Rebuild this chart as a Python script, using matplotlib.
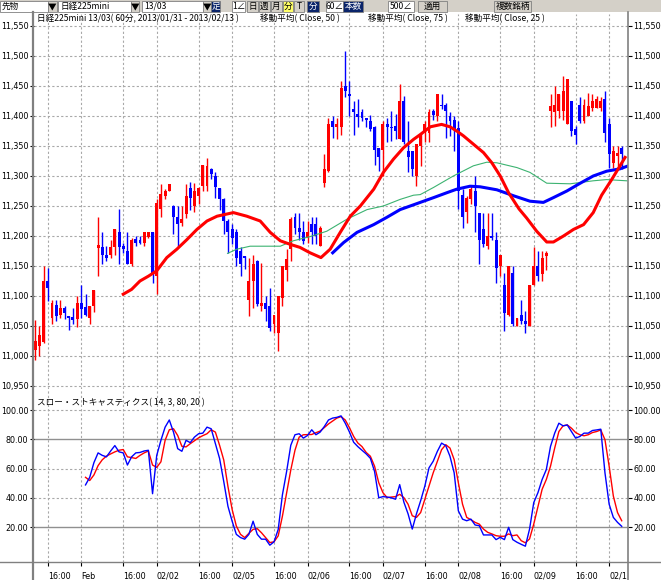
import matplotlib
matplotlib.use("Agg")
import matplotlib.pyplot as plt
from matplotlib.lines import Line2D
from matplotlib.patches import Rectangle

plt.rcParams['font.family'] = ['Noto Sans CJK JP', 'DejaVu Sans']

# hourly bars, index 0..140 (Nikkei225 mini 13/03, 60 min)
opens = [11010, 11017, 11024, 11125, 11064, 11085, 11069, 11080, 11067, 11065,
         11061, 11089, 11082, 11064, 11083, 11180, 11181, 11169, 11169, 11181,
         11206, 11184, 11175, 11153, 11195, 11194, 11189, 11198, 11206, 11133,
         11245, 11267, 11275, 11250, 11231, 11222, 11237, 11280, 11250, 11266,
         11283, 11283, 11311, 11300, 11280, 11262, 11225, 11211, 11206, 11175,
         11166, 11094, 11125, 11158, 11083, 11089, 11083, 11053, 11039, 11097,
         11144, 11178, 11231, 11214, 11206, 11197, 11220, 11220, 11183, 11289,
         11308, 11392, 11381, 11381, 11450, 11436, 11411, 11403, 11406, 11397,
         11392, 11381, 11347, 11344, 11386, 11382, 11383, 11361, 11425, 11342,
         11342, 11300, 11350, 11375, 11372, 11408, 11400, 11419, 11419, 11400,
         11394, 11380, 11269, 11240, 11261, 11275, 11239, 11211, 11183, 11200,
         11194, 11150, 11119, 11068, 11139, 11050, 11069, 11058, 11050, 11119,
         11150, 11136, 11167, 11408, 11406, 11408, 11408, 11386, 11425, 11378,
         11419, 11392, 11400, 11414, 11414, 11414, 11428, 11386, 11322, 11333,
         11347]
highs = [11060, 11050, 11150, 11146, 11094, 11094, 11094, 11084, 11067, 11080,
         11100, 11119, 11104, 11084, 11110, 11231, 11206, 11184, 11194, 11211,
         11245, 11189, 11206, 11197, 11200, 11200, 11206, 11206, 11206, 11262,
         11286, 11278, 11286, 11252, 11250, 11250, 11286, 11290, 11289, 11281,
         11319, 11330, 11314, 11306, 11280, 11264, 11228, 11220, 11211, 11181,
         11167, 11164, 11169, 11160, 11155, 11100, 11114, 11069, 11100, 11150,
         11178, 11231, 11239, 11239, 11225, 11225, 11231, 11231, 11217, 11336,
         11397, 11400, 11397, 11458, 11508, 11458, 11425, 11428, 11411, 11397,
         11401, 11383, 11347, 11392, 11397, 11408, 11403, 11453, 11433, 11392,
         11342, 11353, 11372, 11392, 11411, 11411, 11436, 11436, 11422, 11406,
         11400, 11392, 11278, 11267, 11283, 11300, 11239, 11239, 11239, 11239,
         11206, 11169, 11139, 11150, 11150, 11064, 11094, 11075, 11119, 11181,
         11175, 11175, 11175, 11436, 11450, 11436, 11467, 11461, 11425, 11383,
         11431, 11428, 11439, 11436, 11433, 11431, 11442, 11397, 11350, 11350,
         11350]
lows = [10993, 11000, 11022, 11092, 11053, 11058, 11064, 11061, 11043, 11054,
        11049, 11064, 11067, 11053, 11073, 11133, 11153, 11158, 11164, 11169,
        11153, 11172, 11153, 11150, 11183, 11186, 11183, 11197, 11122, 11103,
        11232, 11261, 11275, 11203, 11183, 11217, 11230, 11244, 11240, 11253,
        11275, 11275, 11295, 11264, 11244, 11203, 11172, 11186, 11150, 11133,
        11145, 11067, 11080, 11083, 11075, 11058, 11042, 11039, 11008, 11083,
        11125, 11158, 11203, 11194, 11186, 11189, 11186, 11186, 11183, 11281,
        11306, 11364, 11361, 11369, 11431, 11400, 11369, 11381, 11392, 11381,
        11375, 11319, 11308, 11300, 11356, 11358, 11361, 11361, 11353, 11306,
        11300, 11283, 11317, 11356, 11356, 11394, 11392, 11411, 11364, 11367,
        11342, 11245, 11214, 11222, 11253, 11206, 11153, 11181, 11178, 11194,
        11122, 11133, 11042, 11067, 11050, 11050, 11053, 11039, 11050, 11119,
        11125, 11125, 11144, 11381, 11383, 11397, 11394, 11386, 11367, 11353,
        11389, 11389, 11400, 11408, 11414, 11408, 11356, 11314, 11314, 11317,
        11311]
closes = [11025, 11035, 11125, 11114, 11089, 11066, 11080, 11072, 11064, 11060,
          11089, 11078, 11069, 11084, 11110, 11185, 11169, 11164, 11181, 11211,
          11181, 11179, 11154, 11194, 11189, 11188, 11206, 11206, 11139, 11255,
          11270, 11275, 11286, 11231, 11220, 11228, 11266, 11264, 11275, 11280,
          11319, 11317, 11303, 11281, 11261, 11225, 11206, 11197, 11164, 11153,
          11164, 11125, 11153, 11086, 11089, 11078, 11047, 11069, 11100, 11150,
          11161, 11228, 11214, 11206, 11192, 11206, 11206, 11200, 11214, 11311,
          11386, 11381, 11386, 11447, 11442, 11434, 11406, 11399, 11396, 11394,
          11378, 11344, 11331, 11386, 11381, 11380, 11375, 11425, 11356, 11331,
          11311, 11353, 11367, 11386, 11406, 11401, 11436, 11417, 11408, 11392,
          11378, 11275, 11231, 11264, 11278, 11250, 11194, 11186, 11200, 11196,
          11147, 11169, 11072, 11150, 11053, 11064, 11058, 11053, 11119, 11150,
          11133, 11164, 11172, 11417, 11419, 11436, 11442, 11461, 11375, 11369,
          11392, 11419, 11417, 11425, 11428, 11425, 11372, 11336, 11342, 11339,
          11336]

# moving averages (bar index, price)
ma25_x = [21, 23, 25, 27, 29, 31.4, 33.8, 36.2, 38.6, 41, 43.4, 47.3, 50.5, 53.7,
          56.1, 58.5, 60.9, 63.2, 65.6, 68.2, 70.4, 72.8, 75.2, 77.6, 80.8, 83.1,
          85.5, 87.9, 90.3, 91.9, 94.3, 97, 99, 100.6, 102.2, 104.6, 107, 109, 111,
          113, 115.5, 117.3, 119.7, 122.1, 123.7, 126.1, 128.5, 130.9, 133.2, 135.2,
          137.6, 139.6, 140.8]
ma25_y = [11103, 11111, 11125, 11133, 11142, 11164, 11178, 11194, 11211, 11225,
          11233, 11239, 11233, 11225, 11206, 11192, 11186, 11181, 11172, 11164,
          11178, 11206, 11233, 11250, 11278, 11306, 11328, 11347, 11361, 11369,
          11382, 11386, 11382, 11375, 11367, 11353, 11339, 11322, 11300, 11272,
          11245, 11230, 11208, 11190, 11190, 11200, 11211, 11219, 11239, 11268,
          11294, 11317, 11331]
ma50_x = [45.9, 48.1, 51.3, 58.5, 61.6, 65.6, 69.6, 74.4, 79.2, 83.1, 87.1, 90.3,
          91.9, 95.1, 99.8, 104.6, 107.8, 110.2, 115, 118.1, 122.1, 127.7, 133.2,
          136.4, 141.2]
ma50_y = [11171, 11178, 11183, 11183, 11192, 11199, 11208, 11228, 11244, 11250,
          11261, 11268, 11269, 11281, 11300, 11317, 11323, 11322, 11314, 11306,
          11288, 11287, 11292, 11294, 11292]
ma75_x = [71, 73.6, 76.8, 80.8, 83.9, 87.1, 91.9, 95.1, 98.2, 100.6, 103.8, 106.2,
          110.2, 114.2, 118.1, 121.3, 123.7, 126.9, 130.1, 133.2, 136.4, 139.6, 141.2]
ma75_y = [11172, 11189, 11206, 11219, 11231, 11244, 11256, 11264, 11272, 11278,
          11283, 11282, 11277, 11267, 11258, 11256, 11264, 11275, 11288, 11300,
          11308, 11312, 11316]

# slow stochastics, bars 12..140
stoch_start = 12
stoch_k = [48.8, 54, 64, 70.7, 69, 68, 72, 75.7, 71.4, 70.7, 62.4, 68, 70.7, 71, 72,
           72.5, 42.8, 69, 79.3, 88.3, 93.2, 84.9, 73.6, 71.8, 79.3, 77.7, 81.5,
           83.8, 84.2, 88.3, 87.2, 77, 66.9, 51.1, 34.2, 24, 15, 12.8, 11.7, 15, 24,
           15, 11.7, 11.7, 7.6, 9.9, 18.4, 42, 57.9, 75.9, 83.1, 83.8, 80.8, 82.6,
           86.5, 83.1, 84.9, 88.7, 93.2, 94.5, 95, 96, 91, 85, 78, 75, 72.5, 70, 67,
           58, 40, 40.8, 40.5, 40, 39, 49, 37, 29, 18.6, 29, 38, 48, 60.5, 65, 71.8,
           77.4, 75.6, 68.4, 57.1, 31.1, 25.4, 24.3, 25.4, 21.4, 20.9, 14.6, 14.6,
           14.6, 11.4, 13, 11.4, 19.8, 11.4, 9.6, 8.2, 6.9, 18.6, 36.7, 43.5, 52.5,
           59.3, 75.1, 84.2, 91, 89.2, 89.8, 85.3, 80.8, 81.9, 84.2, 84.2, 86, 86.4,
           86.9, 57.1, 35.6, 26.6, 23.2, 20.5]
stoch_d = [54, 51.8, 55.6, 62, 66, 68.5, 70, 71.4, 72.5, 73, 68, 67.5, 66.9, 69,
           70.7, 72, 62.4, 60.8, 64.6, 79.3, 86.5, 87.2, 82.6, 75.2, 74.8, 77, 79, 81,
           82.5, 83.8, 86.5, 84.9, 75.9, 65.8, 47.7, 32, 20.7, 15, 12.8, 15.7, 18.4,
           18.9, 16.1, 12.8, 9.4, 9.9, 14, 27.4, 43.2, 59, 72.5, 81.5, 83.1, 83.2,
           83.3, 84.5, 85.6, 88, 90.5, 92.5, 94.5, 95.5, 93.2, 88, 82, 77.5, 75, 71,
           68.4, 61.6, 50.3, 43.5, 40.1, 40.5, 40.8, 42.4, 40.1, 35.6, 27.7, 26.6,
           29.9, 39, 48, 57.1, 65, 72.9, 76.3, 74, 66.1, 50.3, 35.6, 26.6, 25, 23.2,
           22, 18.6, 16.4, 15.3, 14.1, 13.7, 13.7, 15.3, 14.1, 14.6, 10.7, 9.2, 11.9,
           22, 34, 45.8, 52.5, 61.6, 74, 85.3, 89.2, 89.8, 87.6, 84.6, 83.1, 82.4,
           83.1, 84.6, 85.3, 86.4, 79.7, 61.6, 41.2, 29.9, 24.3]

# time axis
time_ticks = [3, 11, 21, 29, 39, 47, 57, 65, 75, 83, 93, 101, 111, 119, 129, 137]
time_labels = ['16:00', 'Feb', '16:00', '02/02', '16:00', '02/05', '16:00', '02/06',
               '16:00', '02/07', '16:00', '02/08', '16:00', '02/09', '16:00', '02/1']
price_ticks = [10950, 11000, 11050, 11100, 11150, 11200, 11250, 11300, 11350,
               11400, 11450, 11500, 11550]
stoch_ticks = [20, 40, 60, 80, 100]

W, H = 661, 580
fig = plt.figure(figsize=(W / 100, H / 100), dpi=100)
fig.patch.set_facecolor('white')


def fx(px):
    return px / W


def fy(py):
    return 1 - py / H


# ---- toolbar ----
fig.patches.append(Rectangle((0, fy(12)), 1, 12 / H, transform=fig.transFigure,
                             facecolor='#d4d0c8', edgecolor='none'))


def box(x0, x1, fc, text='', tc='black', ec='#808080', tx=None, ha='left'):
    fig.patches.append(Rectangle((fx(x0), fy(11.5)), fx(x1 - x0), 10.5 / H,
                                 transform=fig.transFigure, facecolor=fc,
                                 edgecolor=ec, linewidth=0.6))
    if text:
        xx = tx if tx is not None else (x0 + 2 if ha == 'left' else (x0 + x1) / 2)
        fig.text(fx(xx), fy(6.5), text, color=tc, fontsize=6.2, ha=ha, va='center')


box(0, 48, 'white', '先物')
box(48, 57, '#d4d0c8', '▼', ha='center')
box(58, 131, 'white', '日経225mini')
box(131, 139, '#d4d0c8', '▼', ha='center')
box(142, 203, 'white', '13/03')
box(203, 211, '#d4d0c8', '▼', ha='center')
box(211, 220, '#0a246a', '足', tc='white', ha='center')
box(232, 245, 'white', '1∠', ha='center')
box(247, 258, '#d4d0c8', '日', ha='center')
box(259, 270, '#d4d0c8', '週', ha='center')
box(271, 282, '#d4d0c8', '月', ha='center')
box(283, 293, '#ffff66', '分', ha='center')
box(294, 304, '#d4d0c8', 'T', ha='center')
box(307, 319, '#0a246a', '分', tc='white', ha='center')
box(326, 343, 'white', '60∠', ha='center')
box(343, 363, '#0a246a', '本数', tc='white', ha='center')
box(388, 414, 'white', '500∠', ha='center')
box(418, 447, '#d4d0c8', '適用', ha='center')
box(494, 531, '#d4d0c8', '複数銘柄', ha='center')

# ---- axes ----
x_lo, x_hi = -0.3, 141.5
ax = fig.add_axes([fx(34), fy(389), fx(594), 375 / H])
ax2 = fig.add_axes([fx(34), fy(562), fx(594), 172 / H])
grid_style = dict(color='#a8a8a8', linestyle=(0, (2, 2)), linewidth=0.8)

for a in (ax, ax2):
    a.set_xlim(x_lo, x_hi)
    a.set_facecolor('none')
    for s in a.spines.values():
        s.set_visible(False)
    for t in time_ticks:
        a.axvline(t, zorder=0, **grid_style)

# price panel
ax.set_ylim(10945, 11570)
for p in price_ticks:
    ax.axhline(p, zorder=0, **grid_style)
ax.set_yticks(price_ticks)
ax.set_yticklabels([f'{p:,}' for p in price_ticks])
ax.set_xticks([])
ax.tick_params(axis='y', left=True, right=True, labelleft=True, labelright=True,
               direction='out', length=3, width=0.8, color='black', pad=1,
               labelsize=5.8, labelfontfamily='DejaVu Sans')

for i in range(len(opens)):
    o, h, l, c = opens[i], highs[i], lows[i], closes[i]
    col = '#ff0000' if c >= o else '#0000ff'
    ax.vlines(i, l, h, color=col, linewidth=1, zorder=3)
    ax.bar(i, max(abs(c - o), 1.5), bottom=min(o, c), width=0.7, color=col,
           linewidth=0, zorder=3)

ax.plot(ma50_x, ma50_y, color='#3cb371', linewidth=0.8, zorder=4)
ax.plot(ma75_x, ma75_y, color='#0000ff', linewidth=2.2, zorder=5)
ax.plot(ma25_x, ma25_y, color='#ff0000', linewidth=2.2, zorder=5)

ax.text(fx(37), fy(19), '日経225mini 13/03( 60分, 2013/01/31 - 2013/02/13 )',
        transform=fig.transFigure, fontsize=6.2, va='center')
ax.text(fx(260), fy(19), '移動平均( Close, 50 )', transform=fig.transFigure,
        fontsize=6.2, va='center')
ax.text(fx(368), fy(19), '移動平均( Close, 75 )', transform=fig.transFigure,
        fontsize=6.2, va='center')
ax.text(fx(465), fy(19), '移動平均( Close, 25 )', transform=fig.transFigure,
        fontsize=6.2, va='center')

# stochastics panel
ax2.set_ylim(-3.9, 113.7)
for v in (40, 60, 100):
    ax2.axhline(v, zorder=0, **grid_style)
for v in (20, 80):
    ax2.axhline(v, color='#909090', linewidth=1, zorder=0)
ax2.set_yticks(stoch_ticks)
ax2.set_yticklabels([f'{v:.2f}' for v in stoch_ticks])
ax2.tick_params(axis='y', left=True, right=True, labelleft=True, labelright=True,
                direction='out', length=3, width=0.8, color='black', pad=1,
                labelsize=5.8, labelfontfamily='DejaVu Sans')
ax2.set_xticks(time_ticks)
ax2.set_xticklabels(time_labels, ha='left')
ax2.tick_params(axis='x', direction='out', length=3, width=0.8, pad=4,
                labelsize=5.8, labelfontfamily='DejaVu Sans')

sx = list(range(stoch_start, stoch_start + len(stoch_k)))
ax2.plot(sx, stoch_d, color='#ff0000', linewidth=1, zorder=3)
ax2.plot(sx, stoch_k, color='#0000ff', linewidth=1, zorder=4)
ax2.text(fx(37), fy(403), 'スロー・ストキャスティクス( 14, 3, 80, 20 )',
         transform=fig.transFigure, fontsize=6.2, va='center')

# frame lines
fig.add_artist(Line2D([fx(33), fx(33)], [fy(12), 0], color='#808080', linewidth=1.6))
fig.add_artist(Line2D([fx(628), fx(628)], [fy(12), 0], color='#808080', linewidth=1.2))
fig.add_artist(Line2D([0, 1], [fy(562), fy(562)], color='#808080', linewidth=1))

fig.savefig('out.png', dpi=100)
